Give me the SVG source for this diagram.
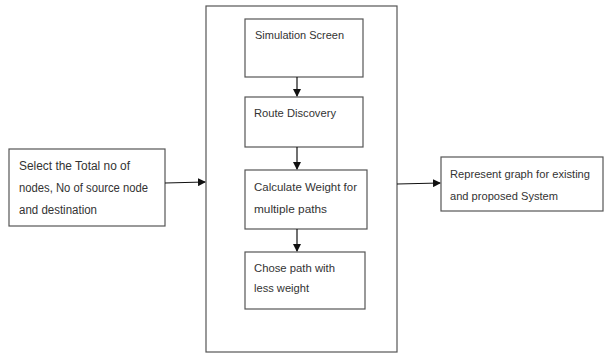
<svg xmlns="http://www.w3.org/2000/svg" width="606" height="353" viewBox="0 0 606 353">
  <defs>
    <marker id="arrow" markerWidth="8" markerHeight="8" refX="7" refY="4" orient="auto" markerUnits="userSpaceOnUse">
      <path d="M0,0 L8,4 L0,8 z" fill="#111"/>
    </marker>
  </defs>
  <style>
    .box { fill: #fff; stroke: #555; stroke-width: 1.2; }
    .lbl { font-family: "Liberation Sans", Arial, sans-serif; font-size: 11.5px; fill: #333; }
    .big { font-size: 12px; }
    .out { font-size: 11px; }
    .conn { stroke: #111; stroke-width: 1.2; fill: none; marker-end: url(#arrow); }
  </style>
  <rect width="606" height="353" fill="#fff"/>

  <g id="input">
    <rect class="box" x="9" y="149" width="156" height="77"/>
    <text class="lbl big" x="19" y="170" textLength="111" lengthAdjust="spacingAndGlyphs">Select the Total no of</text>
    <text class="lbl big" x="19" y="192" textLength="129" lengthAdjust="spacingAndGlyphs">nodes, No of source node</text>
    <text class="lbl big" x="19" y="214" textLength="78" lengthAdjust="spacingAndGlyphs">and destination</text>
  </g>

  <g id="process">
    <rect class="box" x="206" y="6" width="191" height="346"/>
  </g>

  <g id="simulation">
    <rect class="box" x="245" y="19" width="118" height="58"/>
    <text class="lbl" x="255" y="39" textLength="89" lengthAdjust="spacingAndGlyphs">Simulation Screen</text>
  </g>

  <g id="route">
    <rect class="box" x="245" y="97" width="118" height="50"/>
    <text class="lbl" x="254" y="117" textLength="82" lengthAdjust="spacingAndGlyphs">Route Discovery</text>
  </g>

  <g id="weight">
    <rect class="box" x="245" y="170" width="122" height="59"/>
    <text class="lbl" x="254" y="191" textLength="103" lengthAdjust="spacingAndGlyphs">Calculate Weight for</text>
    <text class="lbl" x="254" y="213" textLength="73" lengthAdjust="spacingAndGlyphs">multiple paths</text>
  </g>

  <g id="choose">
    <rect class="box" x="245" y="252" width="120" height="57"/>
    <text class="lbl" x="254" y="272" textLength="81" lengthAdjust="spacingAndGlyphs">Chose path with</text>
    <text class="lbl" x="254" y="292" textLength="55" lengthAdjust="spacingAndGlyphs">less weight</text>
  </g>

  <g id="output">
    <rect class="box" x="441" y="157" width="162" height="54"/>
    <text class="lbl out" x="450" y="178" textLength="140" lengthAdjust="spacingAndGlyphs">Represent graph for existing</text>
    <text class="lbl out" x="450" y="200" textLength="108" lengthAdjust="spacingAndGlyphs">and proposed System</text>
  </g>

  <g id="connectors">
    <line class="conn" x1="165" y1="183" x2="205" y2="182"/>
    <line class="conn" x1="297" y1="77" x2="297" y2="96"/>
    <line class="conn" x1="297" y1="147" x2="297" y2="169"/>
    <line class="conn" x1="297" y1="229" x2="297" y2="251"/>
    <line class="conn" x1="397" y1="184" x2="440" y2="183"/>
  </g>
</svg>
